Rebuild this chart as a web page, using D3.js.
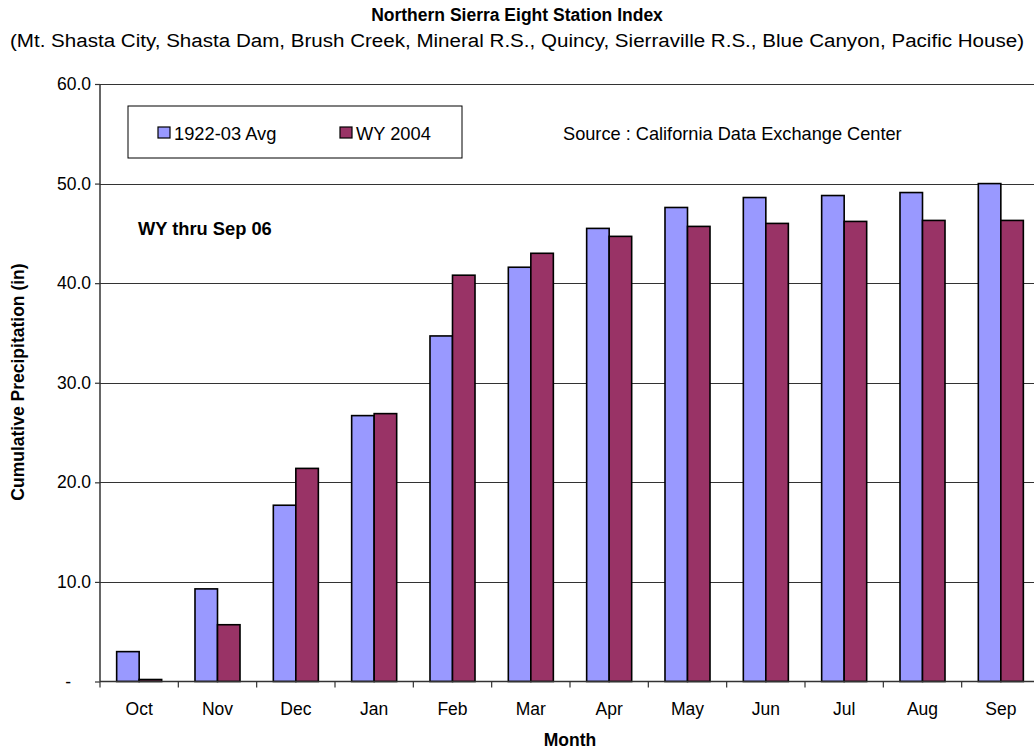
<!DOCTYPE html>
<html>
<head>
<meta charset="utf-8">
<script src="https://cdn.jsdelivr.net/npm/d3@7"></script>
<style>
  html, body { margin: 0; padding: 0; background: #fff; }
  svg { display: block; font-family: "Liberation Sans", Arial, sans-serif; }
</style>
</head>
<body>
<svg id="chart" width="1034" height="755"></svg>
<script>
const months = ["Oct","Nov","Dec","Jan","Feb","Mar","Apr","May","Jun","Jul","Aug","Sep"];
const seriesNames = ["1922-03 Avg","WY 2004"];
const avgValues = [3.0, 9.3, 17.7, 26.7, 34.7, 41.6, 45.5, 47.6, 48.6, 48.8, 49.1, 50.0];
const wyValues = [0.2, 5.7, 21.4, 26.9, 40.8, 43.0, 44.7, 45.7, 46.0, 46.2, 46.3, 46.3];
const yTicks = [0, 10, 20, 30, 40, 50, 60];
const colors = ["#9999FF", "#993366"];

(function () {
const svg = d3.select("#chart");
const pLeft = 100, pRight = 1040, pTop = 84, pBottom = 681.5;

const x = d3.scaleBand().domain(months).range([pLeft, pRight]).padding(0);
const xs = d3.scaleBand().domain(seriesNames).range([0, x.bandwidth()]).paddingInner(0).paddingOuter(0.74);
const y = d3.scaleLinear().domain([0, 60]).range([pBottom, pTop]);

// gridlines
svg.append("g").selectAll("line").data(yTicks.filter(d => d > 0)).join("line")
  .attr("x1", pLeft).attr("x2", 1034)
  .attr("y1", d => Math.round(y(d)) + 0.5).attr("y2", d => Math.round(y(d)) + 0.5)
  .attr("stroke", "#333").attr("stroke-width", 1);

// bars
const data = months.map((m, i) => ({ m, vals: [avgValues[i], wyValues[i]] }));
const groups = svg.append("g").selectAll("g").data(data).join("g")
  .attr("transform", d => `translate(${x(d.m)},0)`);
groups.selectAll("rect").data(d => d.vals.map((v, j) => ({ v, s: seriesNames[j], j })))
  .join("rect")
  .attr("x", d => xs(d.s))
  .attr("width", xs.bandwidth())
  .attr("y", d => y(d.v))
  .attr("height", d => y(0) - y(d.v))
  .attr("fill", d => colors[d.j])
  .attr("stroke", "#000").attr("stroke-width", 1.6);

// y axis
const yAxis = d3.axisLeft(y).tickValues(yTicks).tickSize(5).tickPadding(4)
  .tickFormat(d => d === 0 ? "-" : d3.format(".1f")(d));
const gy = svg.append("g").attr("transform", `translate(${pLeft},0)`).call(yAxis);
gy.select(".domain").attr("stroke", "#333").attr("stroke-width", 1.5).attr("d", `M0,${pTop}V${pBottom}`);
gy.selectAll(".tick line").attr("stroke", "#333").attr("stroke-width", 1.2);
gy.selectAll(".tick text").attr("font-size", 17.5).attr("fill", "#000")
  .attr("font-family", "Liberation Sans, Arial, sans-serif");
gy.selectAll(".tick").filter(d => d === 0).select("text").attr("dx", -20);

// x axis
const xAxis = d3.axisBottom(x).tickSize(0).tickPadding(21);
const gx = svg.append("g").attr("transform", `translate(0,${pBottom})`).call(xAxis);
gx.select(".domain").attr("stroke", "#333").attr("stroke-width", 1.5).attr("d", `M${pLeft},0H1034`);
gx.selectAll(".tick text").attr("font-size", 17.5).attr("fill", "#000")
  .attr("font-family", "Liberation Sans, Arial, sans-serif");
gx.append("g").selectAll("line").data(months).join("line")
  .attr("x1", d => x(d)).attr("x2", d => x(d))
  .attr("y1", 0).attr("y2", 6)
  .attr("stroke", "#333").attr("stroke-width", 1.2);

// titles
svg.append("text").attr("x", 517).attr("y", 21).attr("text-anchor", "middle")
  .attr("font-size", 17.5).attr("font-weight", "bold").text("Northern Sierra Eight Station Index");
svg.append("text").attr("x", 517).attr("y", 47).attr("text-anchor", "middle")
  .attr("font-size", 18)
  .attr("textLength", 1014).attr("lengthAdjust", "spacingAndGlyphs")
  .text("(Mt. Shasta City, Shasta Dam, Brush Creek, Mineral R.S., Quincy, Sierraville R.S., Blue Canyon, Pacific House)");
svg.append("text").attr("x", (pLeft + pRight) / 2).attr("y", 746).attr("text-anchor", "middle")
  .attr("font-size", 17.5).attr("font-weight", "bold").text("Month");
svg.append("text").attr("transform", "translate(24,382) rotate(-90)").attr("text-anchor", "middle")
  .attr("font-size", 17.5).attr("font-weight", "bold").text("Cumulative Precipitation (in)");

// legend
const lg = svg.append("g");
lg.append("rect").attr("x", 128).attr("y", 106).attr("width", 334).attr("height", 52)
  .attr("fill", "#fff").attr("stroke", "#000").attr("stroke-width", 1);
const legendX = [158, 340];
seriesNames.forEach((s, i) => {
  lg.append("rect").attr("x", legendX[i]).attr("y", 127).attr("width", 12).attr("height", 11)
    .attr("fill", colors[i]).attr("stroke", "#000").attr("stroke-width", 1.2);
  lg.append("text").attr("x", legendX[i] + 16).attr("y", 140).attr("font-size", 18.3).text(s);
});

svg.append("text").attr("x", 563).attr("y", 140).attr("font-size", 18.2)
  .text("Source : California Data Exchange Center");
svg.append("text").attr("x", 138).attr("y", 235).attr("font-size", 18.3).attr("font-weight", "bold")
  .text("WY thru Sep 06");
})();
</script>
</body>
</html>
